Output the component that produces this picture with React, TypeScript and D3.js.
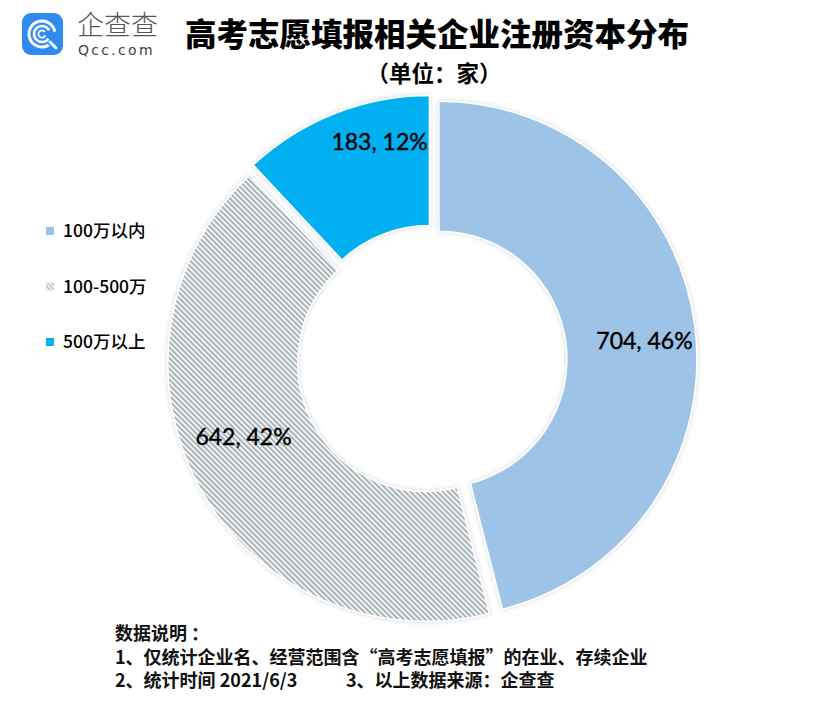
import React, { useEffect, useRef } from 'react';
import * as d3 from 'd3';

// chart data
const categories = ['100万以内', '100-500万', '500万以上'];
const values = [704, 642, 183];
const sliceFills = ['#9dc3e6', 'url(#hatch)', '#00b0f0'];
const legendFills = ['#9dc3e6', 'url(#hatchSmall)', '#00b0f0'];

const title = '高考志愿填报相关企业注册资本分布';
const subtitle = '（单位：家）';
const notes = [
  '数据说明 ：',
  '1、仅统计企业名、经营范围含“高考志愿填报”的在业、存续企业',
  '2、统计时间 2021/6/3',
];
const noteSource = '3、以上数据来源：企查查';

const W = 821;
const H = 701;
const CJK = '"Noto Sans CJK SC", "Noto Sans", sans-serif';

const App: React.FC = () => {
  const svgRef = useRef<SVGSVGElement>(null);

  useEffect(() => {
    if (!svgRef.current) return;
    const svg = d3.select(svgRef.current);
    svg.selectAll('*').remove();

    const defs = svg.append('defs');

    // diagonal hatch for the middle slice
    const hatch = defs.append('pattern')
      .attr('id', 'hatch')
      .attr('patternUnits', 'userSpaceOnUse')
      .attr('width', 3.8)
      .attr('height', 3.8)
      .attr('patternTransform', 'rotate(-45)');
    hatch.append('rect').attr('width', 3.8).attr('height', 3.8).attr('fill', '#f0f5f7');
    hatch.append('rect').attr('width', 1.8).attr('height', 3.8).attr('fill', '#a7afb3');

    const hatchSmall = defs.append('pattern')
      .attr('id', 'hatchSmall')
      .attr('patternUnits', 'userSpaceOnUse')
      .attr('width', 3)
      .attr('height', 3)
      .attr('patternTransform', 'rotate(-45)');
    hatchSmall.append('rect').attr('width', 3).attr('height', 3).attr('fill', '#f4f6f7');
    hatchSmall.append('rect').attr('width', 1.3).attr('height', 3).attr('fill', '#b4babd');

    const shadow = defs.append('filter')
      .attr('id', 'soft')
      .attr('x', '-10%').attr('y', '-10%')
      .attr('width', '120%').attr('height', '120%');
    shadow.append('feDropShadow')
      .attr('dx', 0).attr('dy', 0)
      .attr('stdDeviation', 2)
      .attr('flood-color', '#000')
      .attr('flood-opacity', 0.18);

    svg.append('rect').attr('width', W).attr('height', H).attr('fill', '#ffffff');

    // ---- logo
    const logo = svg.append('g').attr('transform', 'translate(22,13)');
    logo.append('rect')
      .attr('width', 41).attr('height', 42).attr('rx', 9)
      .attr('fill', '#2f8bef');
    const lc = logo.append('g').attr('transform', 'translate(20,21)');
    const ring = (r: number, w: number, a0: number, a1: number) =>
      d3.arc()({ innerRadius: r - w / 2, outerRadius: r + w / 2, startAngle: a0, endAngle: a1 } as any);
    lc.append('path').attr('d', ring(13, 3, 2.6, 2 * Math.PI + 1.4)).attr('fill', '#fff');
    lc.append('path').attr('d', ring(8, 2.6, 2.2, 2 * Math.PI + 1.1)).attr('fill', '#fff');
    lc.append('path').attr('d', ring(3.6, 2, 2.0, 2 * Math.PI + 0.9)).attr('fill', '#fff');
    lc.append('line')
      .attr('x1', 8).attr('y1', 8).attr('x2', 14).attr('y2', 14)
      .attr('stroke', '#fff').attr('stroke-width', 3).attr('stroke-linecap', 'round');

    logo.append('text')
      .attr('x', 55).attr('y', 22)
      .attr('font-family', CJK).attr('font-size', 27)
      .attr('font-weight', 300)
      .attr('fill', '#555')
      .text('企查查');
    logo.append('text')
      .attr('x', 56).attr('y', 42)
      .attr('font-family', '"DejaVu Sans", sans-serif').attr('font-size', 14)
      .attr('letter-spacing', 2.3)
      .attr('fill', '#444')
      .text('Qcc.com');

    // ---- titles
    svg.append('text')
      .attr('x', 437).attr('y', 46)
      .attr('text-anchor', 'middle')
      .attr('font-family', CJK).attr('font-weight', 900).attr('font-size', 31.5)
      .attr('fill', '#000')
      .text(title);
    svg.append('text')
      .attr('x', 434).attr('y', 82)
      .attr('text-anchor', 'middle')
      .attr('font-family', CJK).attr('font-weight', 700).attr('font-size', 22.5)
      .attr('fill', '#000')
      .text(subtitle);

    // ---- doughnut
    const cx = 432;
    const cy = 360;
    const outerR = 258;
    const innerR = 128;
    const explode = 7;

    const total = d3.sum(values);
    const pct = d3.format('.0%');
    const pie = d3.pie<number>().sort(null).value(d => d);
    const arcs = pie(values);
    const arc = d3.arc<d3.PieArcDatum<number>>().innerRadius(innerR).outerRadius(outerR);
    // Excel's label placement is a little off the centroid
    const labelNudge: [number, number][] = [[14, 6], [-13, -19], [21, -32]];

    const g = svg.append('g').attr('transform', `translate(${cx},${cy})`);
    const slices = g.selectAll('g.slice')
      .data(arcs)
      .join('g')
      .attr('class', 'slice')
      .attr('transform', d => {
        const a = (d.startAngle + d.endAngle) / 2;
        return `translate(${Math.sin(a) * explode},${-Math.cos(a) * explode})`;
      });

    slices.append('path')
      .attr('d', arc)
      .attr('fill', (_, i) => sliceFills[i])
      .attr('stroke', '#ffffff')
      .attr('stroke-width', 1.5)
      .attr('filter', 'url(#soft)');

    slices.append('text')
      .attr('transform', (d, i) => {
        const [x, y] = arc.centroid(d);
        return `translate(${x + labelNudge[i][0]},${y + labelNudge[i][1]})`;
      })
      .attr('text-anchor', 'middle')
      .attr('dy', '0.35em')
      .attr('font-family', 'Lato, "Open Sans", sans-serif')
      .attr('font-size', 23)
      .attr('stroke', '#000')
      .attr('stroke-width', 0.4)
      .attr('fill', '#000')
      .text(d => `${d.data}, ${pct(d.data / total)}`);

    // ---- legend
    const legendY = d3.scalePoint<string>().domain(categories).range([231, 342]);
    const legend = svg.append('g');
    const items = legend.selectAll('g')
      .data(categories)
      .join('g')
      .attr('transform', d => `translate(46,${legendY(d)})`);
    items.append('rect')
      .attr('x', 0).attr('y', -4)
      .attr('width', 8).attr('height', 8)
      .attr('fill', (_, i) => legendFills[i]);
    items.append('text')
      .attr('x', 17).attr('y', 0)
      .attr('dy', '0.36em')
      .attr('font-family', CJK).attr('font-size', 17.5).attr('font-weight', 500)
      .attr('fill', '#000')
      .text(d => d);

    // ---- notes
    const noteY = d3.scaleLinear().domain([0, 2]).range([640, 687]);
    svg.append('g')
      .selectAll('text')
      .data(notes)
      .join('text')
      .attr('x', 115)
      .attr('y', (_, i) => noteY(i))
      .attr('font-family', CJK).attr('font-weight', 700).attr('font-size', 18)
      .attr('fill', '#111')
      .text(d => d);
    svg.append('text')
      .attr('x', 346).attr('y', noteY(2))
      .attr('font-family', CJK).attr('font-weight', 700).attr('font-size', 18)
      .attr('fill', '#111')
      .text(noteSource);
  }, []);

  return (
    <svg
      ref={svgRef}
      width={W}
      height={H}
      style={{ position: 'absolute', left: 0, top: 0, display: 'block' }}
    />
  );
};

export default App;
